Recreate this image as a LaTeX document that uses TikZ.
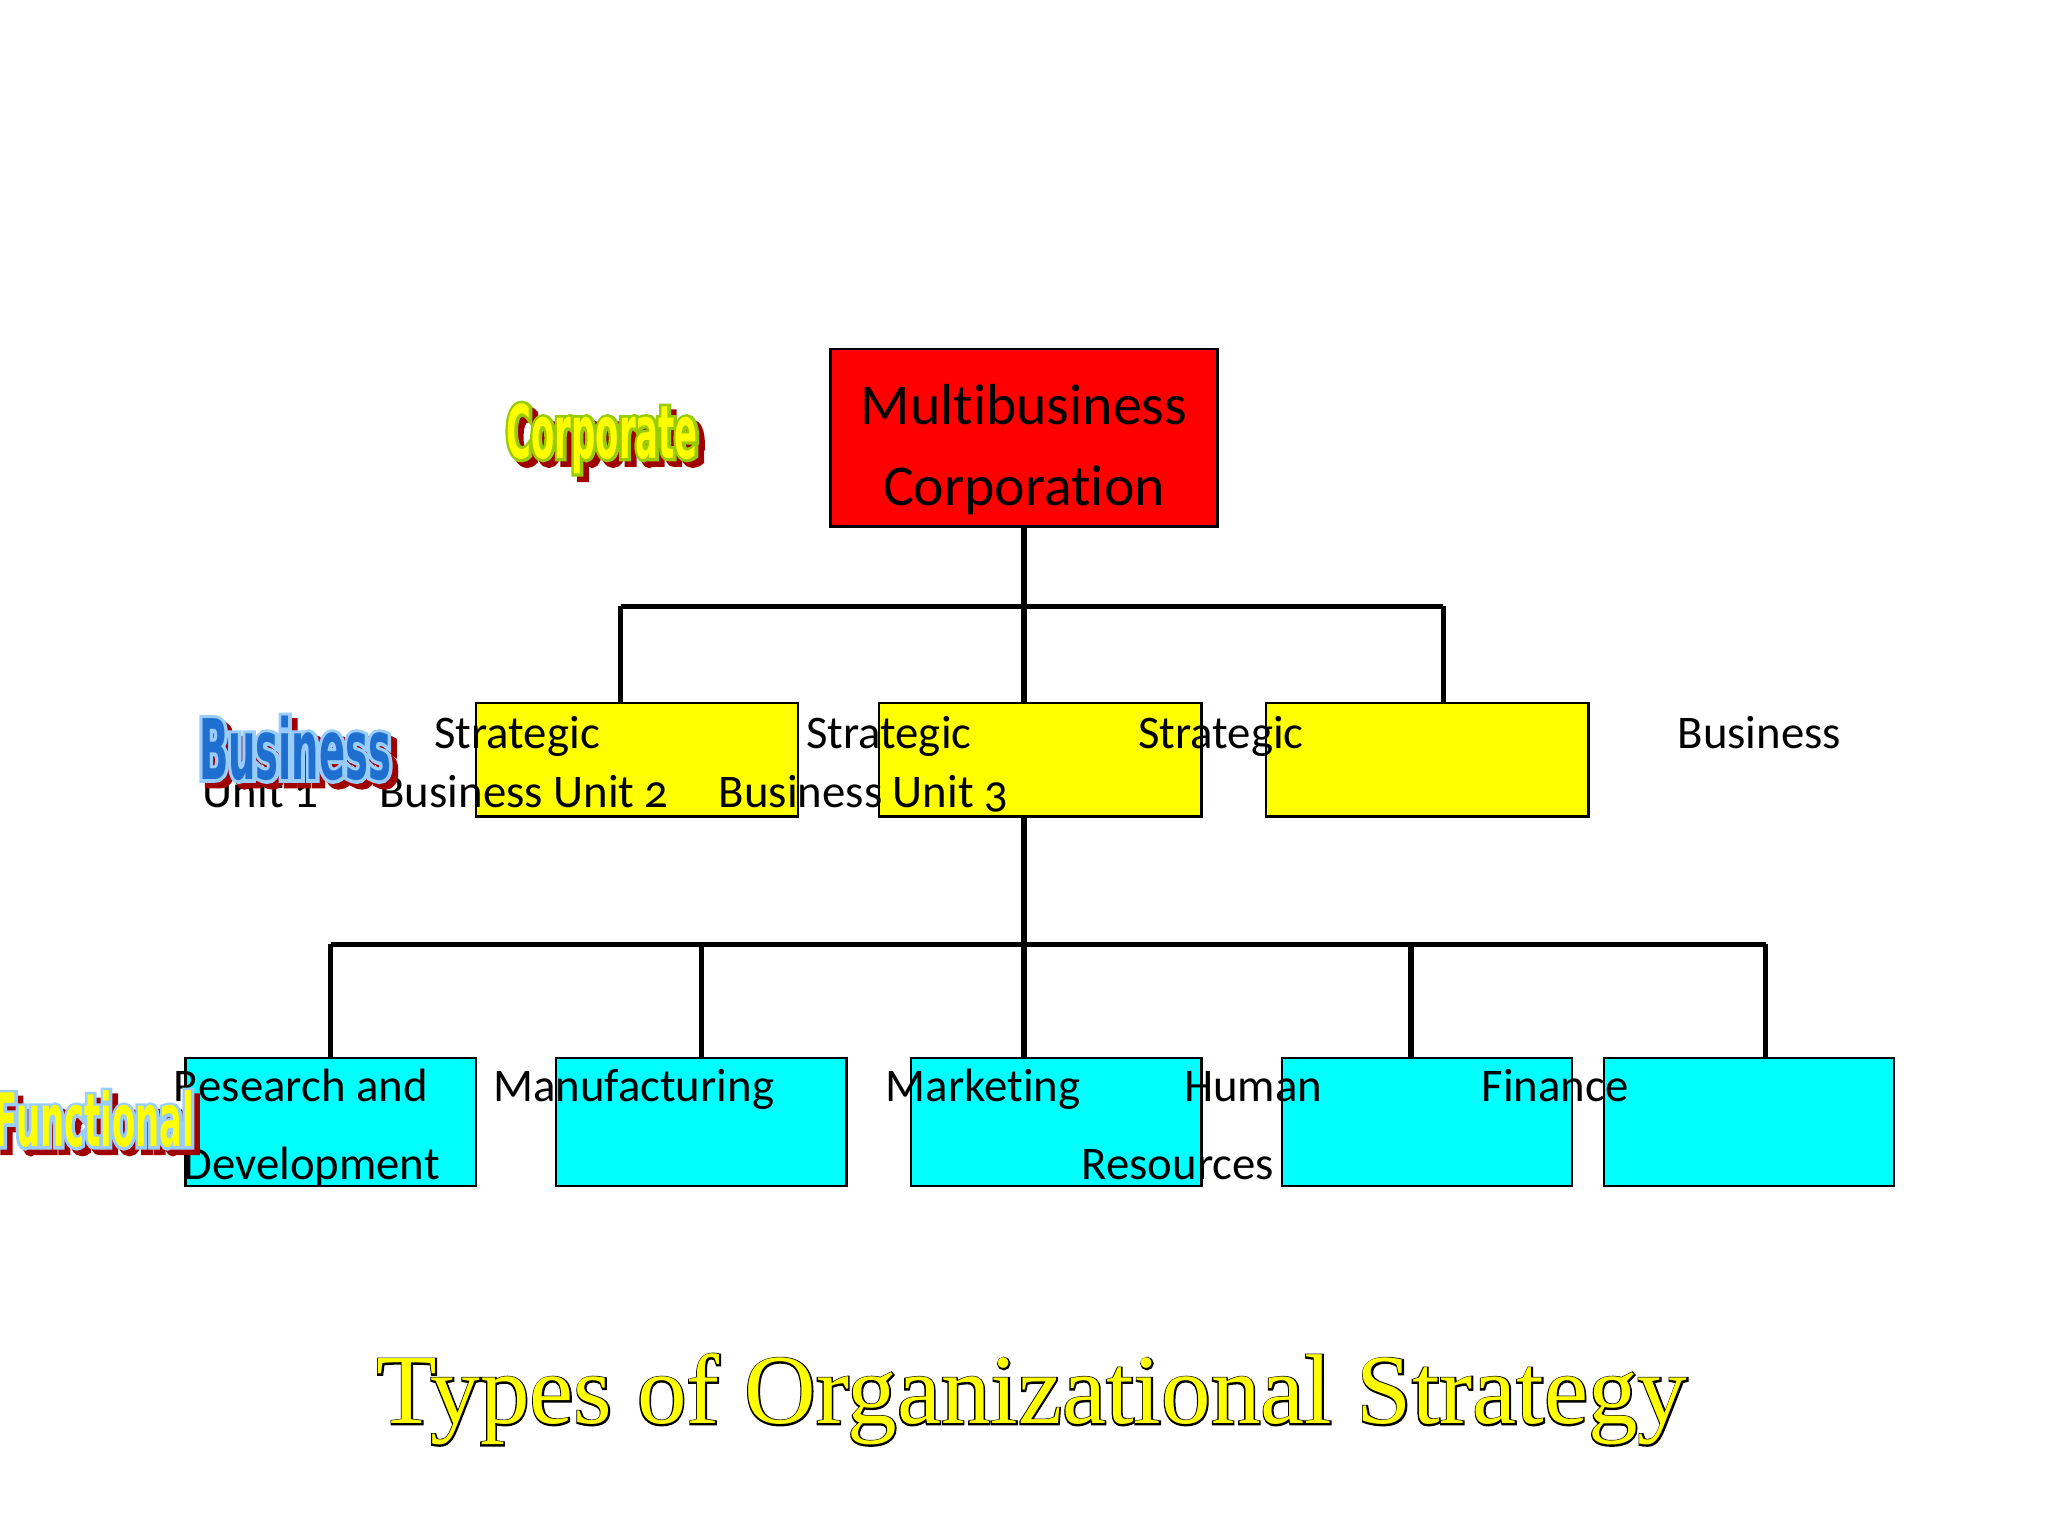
\documentclass[tikz,border=0pt]{standalone}
\usepackage{fontspec}
\setmainfont[Numbers=OldStyle,Ligatures=NoCommon]{Carlito}
\newfontfamily\artfont[FakeStretch=0.46]{DejaVu Sans Bold}
\newfontfamily\artfontedge[FakeStretch=0.46,FakeBold=8]{DejaVu Sans Bold}
\newfontfamily\titlefont{Liberation Serif}
\newfontfamily\titlefontedge[FakeBold=3]{Liberation Serif}

\definecolor{corpred}{HTML}{FF0000}
\definecolor{unityellow}{HTML}{FFFF00}
\definecolor{funccyan}{HTML}{00FFFF}
\definecolor{artgreen}{HTML}{99CC00}
\definecolor{artshadow}{HTML}{A00000}
\definecolor{artblue}{HTML}{1E6FD0}
\definecolor{artlight}{HTML}{99CCFF}

\begin{document}
\begin{tikzpicture}[
    tie/.style={line width=1.8pt, black},
    corpbox/.style={rectangle, draw=black, fill=corpred, line width=0.8pt,
                    minimum width=4.8cm, minimum height=2.2cm},
    unitbox/.style={rectangle, draw=black, fill=unityellow, line width=0.8pt,
                    minimum width=4.0cm, minimum height=1.41cm},
    funcbox/.style={rectangle, draw=black, fill=funccyan, line width=0.8pt,
                    minimum width=3.6cm, minimum height=1.59cm},
    boxtext/.style={font=\fontsize{16.5}{19}\selectfont, inner sep=0pt, anchor=base west},
    artface/.style={inner sep=0pt, font=\fontsize{#1}{#1}\artfont},
    artedge/.style={inner sep=0pt, font=\fontsize{#1}{#1}\artfontedge}]

  \useasboundingbox (0,0) rectangle (25.4,-19.05);

  % Corporate level
  \node[corpbox] (corp) at (12.70,-5.43) {};
  \node[font=\fontsize{20.4}{28.5}\selectfont, align=center] (corptext)
        at ([yshift=-0.15cm]corp.center) {Multibusiness\\Corporation};

  % Business level
  \node[unitbox] (sbu1) at (7.90,-9.42) {};
  \node[unitbox] (sbu2) at (12.90,-9.42) {};
  \node[unitbox] (sbu3) at (17.70,-9.42) {};

  % Functional level
  \node[funcbox] (fn1) at (4.10,-13.915) {};
  \node[funcbox] (fn2) at (8.70,-13.915) {};
  \node[funcbox] (fn3) at (13.10,-13.915) {};
  \node[funcbox] (fn4) at (17.70,-13.915) {};
  \node[funcbox] (fn5) at (21.69,-13.915) {};

  % Connectors from the corporation to the units
  \coordinate (top)  at (12.70,-7.52);
  \coordinate (top1) at (7.70,-7.52);
  \coordinate (top3) at (17.90,-7.52);
  \draw[tie] (corp.south) -- (top);
  \draw[tie] (top1) -- (top3);
  \draw[tie] (top1) -- (top1 |- sbu1.north);
  \draw[tie] (top) -- (top |- sbu2.north);
  \draw[tie] (top3) -- (top3 |- sbu3.north);

  % Connectors from unit 2 to the functions
  \coordinate (mid) at (12.70,-11.71);
  \draw[tie] (mid |- sbu2.south) -- (mid);
  \foreach \x [count=\i] in {4.10, 8.70, 12.70, 17.50, 21.90} {
    \coordinate (d\i) at (\x,-11.71);
    \draw[tie] (d\i) -- (d\i |- fn\i.north);
  }
  \draw[tie] (d1) -- (d5);

  % Unit labels
  \node[boxtext] (lab1a) at (5.38,-9.28)  {Strategic};
  \node[boxtext] (lab1b) at (2.51,-10.01) {Unit 1};
  \node[boxtext] (lab2a) at (4.70,-10.01) {Business Unit 2};
  \node[boxtext] (lab3a) at (9.99,-9.28)  {Strategic};
  \node[boxtext] (lab3b) at (8.91,-10.01) {Business Unit 3};
  \node[boxtext] (lab4a) at (14.11,-9.28) {Strategic};
  \node[boxtext] (lab5a) at (20.80,-9.28) {Business};

  % Function labels
  \node[boxtext] (rd1)  at (2.15,-13.66)  {Research and};
  \node[boxtext] (rd2)  at (2.27,-14.63)  {Development};
  \node[boxtext] (man)  at (6.11,-13.66)  {Manufacturing};
  \node[boxtext] (mkt)  at (10.98,-13.66) {Marketing};
  \node[boxtext] (hr1)  at (14.68,-13.66) {Human};
  \node[boxtext] (hr2)  at (13.41,-14.63) {Resources};
  \node[boxtext] (fin)  at (18.37,-13.66) {Finance};

  % Level names
  \node[artedge=26, text=artshadow] (corpshadow) at (7.54,-5.51) {Corporate};
  \node[artedge=26, text=artgreen]  (corpedge)   at (7.47,-5.44) {Corporate};
  \node[artface=26, text=unityellow] (corplevel) at (7.47,-5.44) {Corporate};

  \node[artedge=29.5, text=artshadow] (busshadow) at (3.73,-9.35) {Business};
  \node[artedge=29.5, text=artlight]  (busedge)   at (3.66,-9.28) {Business};
  \node[artface=29.5, text=artblue]   (buslevel)  at (3.66,-9.28) {Business};

  \node[artedge=26, text=artshadow]  (funshadow) at (1.24,-13.95) {Functional};
  \node[artedge=26, text=artlight]   (funedge)   at (1.17,-13.88) {Functional};
  \node[artface=26, text=unityellow] (funlevel)  at (1.17,-13.88) {Functional};

  % Title
  \node[inner sep=0pt, anchor=base, font=\fontsize{35}{35}\titlefontedge, text=black]
        (titleedge) at (12.80,-17.66) {Types of Organizational Strategy};
  \node[inner sep=0pt, anchor=base, font=\fontsize{35}{35}\titlefont, text=unityellow]
        (title) at (12.80,-17.66) {Types of Organizational Strategy};

\end{tikzpicture}
\end{document}
